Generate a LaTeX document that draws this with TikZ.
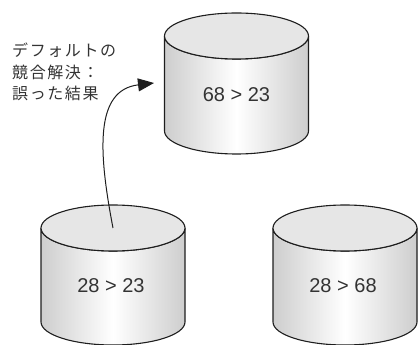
\documentclass[tikz,border=0pt]{standalone}
\usepackage{fontspec}
\setmainfont{Liberation Sans}
\newfontfamily\jpfont[LetterSpace=10]{Noto Sans CJK JP}
\usetikzlibrary{arrows.meta}
\definecolor{cylgray}{RGB}{156,156,156}
\definecolor{topfill}{RGB}{230,230,230}
\definecolor{txt}{RGB}{51,51,51}
\definecolor{edge}{RGB}{30,30,30}
\pgfdeclarehorizontalshading{cylshade}{100bp}{color(0bp)=(cylgray); color(50bp)=(white); color(100bp)=(cylgray)}
\tikzset{
  cylside/.style={draw=edge, line width=1.1pt, shading=cylshade},
  cyltop/.style={draw=edge, line width=1.1pt, fill=topfill},
  cyllabel/.style={text=txt, font=\fontsize{20}{24}\selectfont, inner sep=0pt},
  jptext/.style={text=txt, font=\jpfont\fontsize{16}{21.5}\selectfont, align=left, inner sep=0pt},
  arr/.style={draw=edge, line width=1pt, -{Triangle[length=16pt,width=13pt]}}
}
\newcommand\drawcyl[4]{%
  \path[cylside] (#2-72,#3) -- (#2-72,#4) arc[start angle=180,end angle=360,x radius=72,y radius=23] -- (#2+72,#3) arc[start angle=0,end angle=-180,x radius=72,y radius=23] -- cycle;
  \path[cyltop] (#2,#3) ellipse[x radius=72,y radius=23];
  \coordinate (#1) at (#2,#3);
}
\begin{document}
\begin{tikzpicture}[x=1pt,y=1pt]
\useasboundingbox (0,0) rectangle (418,345);
\drawcyl{ctop}{236.5}{309}{214}
\drawcyl{cleft}{113}{117}{23}
\drawcyl{cright}{345}{117}{23}
\node[cyllabel] (l1) at (236.5,250) {68 > 23};
\node[cyllabel] (l2) at (111,59) {28 > 23};
\node[cyllabel] (l3) at (343,59) {28 > 68};
\node[jptext, anchor=west] (note) at (12,273) {デフォルトの\\競合解決：\\誤った結果};
\coordinate (tip) at (154,262);
\draw[arr] (cleft) .. controls (98,195) and (95,255) .. (tip);
\end{tikzpicture}
\end{document}
